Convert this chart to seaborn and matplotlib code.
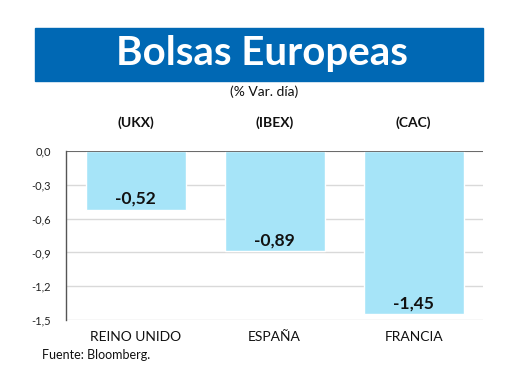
import numpy as np
import pandas as pd
import seaborn as sns
import matplotlib
matplotlib.use('Agg')
import matplotlib.pyplot as plt
from matplotlib.patches import Rectangle

paises = ['REINO UNIDO', 'ESPAÑA', 'FRANCIA']
indices = ['(UKX)', '(IBEX)', '(CAC)']
variacion = [-0.52, -0.89, -1.45]
ticks = [0.0, -0.3, -0.6, -0.9, -1.2, -1.5]

sns.set_theme(style='white')
plt.rcParams['font.family'] = ['Lato', 'DejaVu Sans']

df = pd.DataFrame({'pais': paises, 'var': variacion})

fig = plt.figure(figsize=(5.2, 3.9), dpi=100)
ax = fig.add_axes([0.127, 0.1795, 0.802, 0.433])

sns.barplot(data=df, x='pais', y='var', color='#a6e4f8', width=0.72,
            saturation=1, ax=ax, zorder=3)

ax.set_ylim(-1.5, 0)
ax.set_xlim(-0.5, 2.5)
ax.set_yticks(ticks)
ax.set_yticklabels(['{:.1f}'.format(t).replace('.', ',') for t in ticks],
                   fontsize=8, color='#222222')
ax.tick_params(axis='y', length=0, pad=11)
ax.tick_params(axis='x', length=0, pad=8)
ax.set_xticks(range(len(paises)))
ax.set_xticklabels(paises, fontsize=10, color='#111111')
ax.set_xlabel('')
ax.set_ylabel('')
ax.grid(axis='y', color='#d9d9d9', linewidth=1, zorder=0)
for s in ['top', 'right', 'bottom']:
    ax.spines[s].set_visible(False)
ax.spines['left'].set_color('#555555')
ax.spines['left'].set_linewidth(1)
ax.axhline(0, color='#555555', linewidth=1.2, zorder=4)

# etiquetas de valor dentro de la barra
for i, v in enumerate(variacion):
    ax.text(i, v + 0.1, '{:.2f}'.format(v).replace('.', ','), ha='center',
            va='center', fontsize=12.5, fontweight='bold', color='#111111', zorder=5)

# codigos de indice arriba
for i, code in enumerate(indices):
    x_fig = fig.transFigure.inverted().transform(ax.transData.transform((i, 0)))[0]
    fig.text(x_fig, 1 - 123 / 390, code, ha='center', va='center',
             fontsize=10, fontweight='bold', color='#111111')

# caja del titulo
fig.patches.append(Rectangle((35 / 520, 1 - 81 / 390), 448 / 520, 53 / 390,
                             transform=fig.transFigure, color='#0068b4', zorder=0))
fig.text(262 / 520, 1 - 53 / 390, 'Bolsas Europeas', ha='center', va='center',
         fontsize=29, fontweight='bold', color='white')
fig.text(264 / 520, 1 - 92 / 390, '(% Var. día)', ha='center', va='center',
         fontsize=10, color='#111111')
fig.text(42 / 520, 1 - 355 / 390, 'Fuente: Bloomberg.', ha='left', va='center',
         fontsize=9, color='#111111')

fig.savefig('out.png', dpi=100)
